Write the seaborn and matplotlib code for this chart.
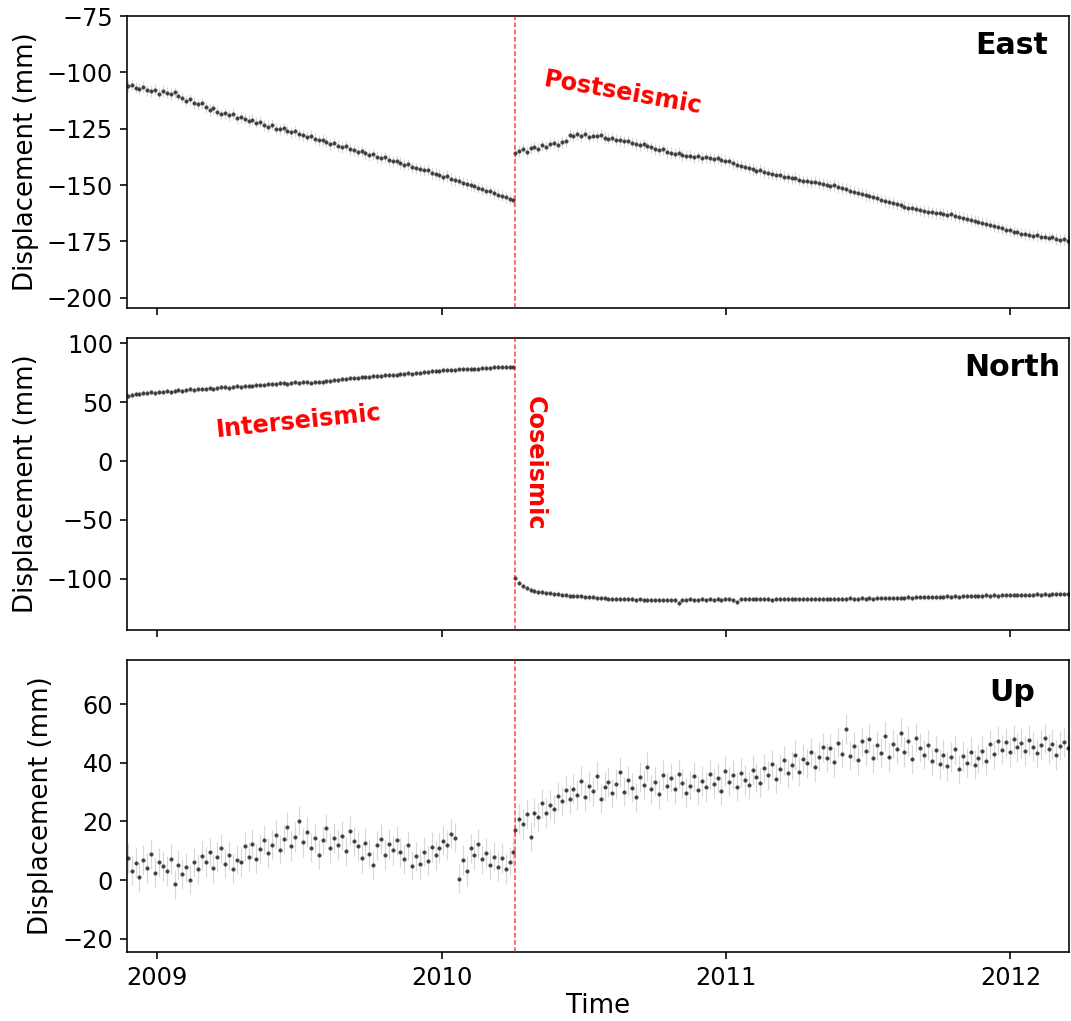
import numpy as np
import pandas as pd
import matplotlib
matplotlib.use("Agg")
import matplotlib.pyplot as plt
import matplotlib.dates as mdates
import seaborn as sns

# ---------------- data (5-day sampling) ----------------
pre_start = "2008-11-24"
post_start = "2010-04-05"
quake_date = "2010-04-05"

east_pre = [
    -106.0, -105.5, -106.8, -107.2, -106.4, -107.9, -108.3, -107.6, -109.5, -108.2,
    -109.0, -109.6, -108.8, -110.4, -111.2, -112.5, -111.9, -113.6, -114.2, -113.8,
    -115.5, -116.7, -115.9, -117.4, -118.6, -118.1, -119.0, -118.4, -120.3, -119.8,
    -120.5, -121.6, -121.0, -122.3, -121.9, -123.4, -124.1, -123.2, -124.9, -125.3,
    -124.8, -125.9, -126.6, -126.1, -127.5, -127.9, -128.6, -128.1, -129.4, -130.2,
    -130.0, -130.8, -131.9, -131.4, -132.6, -133.1, -132.7, -134.0, -134.5, -135.2,
    -135.0, -135.9, -136.8, -136.3, -137.5, -138.0, -137.6, -138.9, -139.5, -139.1,
    -140.2, -141.0, -140.7, -142.1, -142.6, -143.0, -143.5, -143.2, -144.6, -145.0,
    -145.5, -146.2, -146.0, -147.3, -147.8, -148.1, -148.9, -149.5, -150.0, -150.6,
    -151.2, -151.9, -152.5, -152.8, -153.6, -154.3, -154.7, -155.4, -156.0, -156.8,
]
east_post = [
    -135.8, -134.9, -134.2, -135.1, -133.6, -133.0, -133.8, -132.4, -132.9, -131.7,
    -131.5, -132.2, -130.9, -130.6, -127.8, -128.4, -127.5, -128.1, -127.2, -128.6,
    -128.0, -128.3, -127.7, -128.9, -129.4, -129.0, -129.8, -130.1, -130.6, -130.3,
    -131.2, -131.8, -132.3, -131.9, -132.8, -133.3, -134.0, -134.6, -134.2, -135.3,
    -135.8, -136.1, -135.7, -136.6, -136.9, -137.0, -137.6, -137.3, -138.0, -137.7,
    -138.0, -138.4, -138.1, -138.9, -139.2, -139.5, -140.3, -140.9, -141.4, -141.8,
    -142.5, -142.9, -143.6, -143.3, -144.2, -144.8, -145.1, -145.7, -145.4, -146.2,
    -146.6, -147.0, -146.8, -147.6, -148.0, -148.3, -148.7, -148.5, -149.2, -149.5,
    -149.8, -150.2, -150.0, -150.9, -151.3, -151.7, -152.4, -152.9, -153.3, -153.8,
    -154.4, -154.9, -155.1, -155.8, -156.4, -157.0, -157.6, -157.9, -158.6, -159.0,
    -159.5, -160.1, -160.3, -160.8, -161.2, -161.5, -161.9, -162.0, -162.4, -162.5,
    -162.8, -163.2, -163.0, -163.7, -164.1, -164.5, -164.9, -165.3, -165.8, -166.2,
    -166.8, -167.1, -167.6, -168.2, -168.6, -169.2, -169.7, -170.1, -170.6, -171.0,
    -171.5, -171.8, -172.0, -172.4, -172.2, -172.8, -173.1, -173.4, -173.2, -173.9,
    -174.2, -174.0, -174.6,
]
north_pre = [
    55.2, 56.1, 56.8, 57.0, 57.6, 58.0, 58.4, 58.1, 58.9, 59.0,
    59.3, 59.0, 59.8, 60.1, 59.7, 60.6, 60.9, 60.5, 61.2, 61.0,
    61.6, 61.9, 61.5, 62.2, 62.5, 62.7, 62.4, 63.1, 63.4, 63.2,
    63.8, 64.1, 63.7, 64.4, 64.8, 65.0, 65.4, 65.1, 65.8, 66.0,
    66.2, 65.8, 66.5, 66.9, 66.4, 66.8, 67.1, 66.7, 67.3, 67.0,
    67.5, 68.0, 68.3, 68.9, 69.2, 69.5, 69.9, 70.3, 70.6, 70.9,
    71.2, 71.0, 71.6, 72.0, 72.3, 72.5, 72.8, 73.2, 73.0, 73.5,
    73.8, 74.1, 74.5, 74.3, 74.9, 75.2, 75.6, 75.9, 76.2, 76.5,
    76.7, 77.1, 77.4, 77.2, 77.6, 77.8, 78.1, 77.9, 78.3, 78.0,
    78.3, 78.7, 79.0, 79.4, 79.8, 80.0, 80.3, 80.1, 79.7, 79.5,
]
north_post = [
    -99.0, -103.2, -106.1, -108.0, -109.4, -110.6, -110.9, -111.6, -112.0, -112.5,
    -113.0, -113.3, -113.6, -113.9, -114.3, -114.5, -114.9, -115.0, -115.4, -115.5,
    -115.8, -116.1, -116.4, -116.3, -116.8, -117.0, -116.9, -117.3, -117.1, -117.6,
    -117.5, -117.9, -117.6, -118.1, -117.8, -118.0, -117.7, -118.2, -117.9, -118.0,
    -117.8, -118.1, -120.5, -118.3, -117.9, -117.6, -118.0, -117.8, -117.5, -117.9,
    -117.6, -117.9, -117.4, -117.8, -117.5, -117.2, -117.7, -119.8, -117.6, -117.1,
    -117.3, -117.6, -117.2, -117.5, -117.0, -117.4, -117.7, -117.3, -117.1, -117.5,
    -117.3, -117.0, -117.4, -117.6, -117.2, -117.5, -116.9, -117.3, -117.1, -117.4,
    -117.2, -116.9, -117.3, -117.0, -116.8, -117.1, -116.7, -117.0, -116.9, -116.6,
    -116.8, -116.5, -116.9, -116.6, -116.3, -116.5, -116.2, -116.4, -116.0, -116.3,
    -116.0, -115.8, -116.1, -115.7, -115.9, -115.6, -115.4, -115.7, -115.3, -115.5,
    -115.3, -115.0, -115.2, -114.9, -115.1, -114.8, -114.6, -114.9, -114.5, -114.7,
    -114.5, -114.2, -114.4, -114.0, -114.3, -113.9, -114.1, -113.7, -113.9, -113.6,
    -113.5, -113.8, -113.4, -113.6, -113.2, -113.5, -113.1, -113.4, -113.0, -113.3,
    -112.9, -113.2, -113.0,
]
up_pre = [
    7.5, 3.2, 5.9, 1.0, 6.8, 4.1, 8.9, 2.5, 6.0, 4.7,
    3.1, 7.2, -1.5, 5.3, 2.0, 4.4, 0.2, 6.1, 3.8, 8.3,
    6.2, 9.5, 4.0, 7.9, 10.8, 5.6, 8.4, 3.9, 7.0, 6.2,
    11.5, 8.0, 12.4, 7.3, 10.6, 13.8, 9.2, 12.1, 15.5, 10.4,
    13.9, 18.2, 11.6, 14.7, 20.3, 12.9, 16.4, 11.0, 14.2, 8.7,
    13.5, 17.6, 10.9, 14.3, 12.0, 15.1, 9.8, 16.8, 13.2, 11.5,
    7.4, 12.8, 9.0, 5.1, 11.9, 14.0, 8.6, 12.3, 10.1, 13.6,
    9.5, 7.2, 11.8, 4.9, 8.1, 5.5, 9.7, 6.6, 11.3, 8.4,
    10.9, 13.4, 12.0, 15.8, 14.5, 0.5, 6.9, 3.1, 10.8, 8.6,
    12.4, 7.1, 9.3, 5.2, 8.0, 4.6, 7.5, 3.8, 6.3, 9.6,
]
up_post = [
    17.2, 20.8, 19.1, 22.5, 14.8, 23.0, 21.4, 26.2, 22.9, 25.7,
    24.1, 28.6, 26.9, 30.8, 27.5, 31.2, 29.0, 33.9, 28.4, 32.1,
    30.2, 35.6, 27.8, 31.9, 33.4, 29.6, 32.7, 36.8, 30.1, 34.0,
    31.5, 28.2, 35.1, 32.4, 38.7, 30.9, 33.6, 29.3, 35.8, 32.0,
    34.9, 31.1, 36.3, 33.0, 29.8, 32.2, 35.4, 30.6, 33.8, 31.7,
    36.1, 32.9, 34.8, 30.5, 37.2, 33.5, 35.9, 31.8, 36.6, 34.1,
    32.3, 37.5, 35.0, 33.2, 38.1, 35.7, 39.4, 34.6, 37.9, 40.8,
    36.4, 39.1, 42.6, 37.0, 41.3, 39.8, 43.5, 38.6, 42.1, 45.2,
    41.7, 44.9, 40.3, 46.8, 43.1, 51.5, 42.4, 45.6, 40.9, 47.3,
    44.0, 48.2, 41.6, 45.9, 43.3, 49.1, 42.0, 46.5, 44.8, 50.2,
    43.7, 47.4, 41.2, 48.6, 45.1, 42.8, 46.0, 40.5, 44.3, 39.6,
    42.7, 38.9, 41.9, 44.6, 37.8, 42.3, 40.0, 43.8, 39.3, 41.5,
    44.1, 40.7, 46.3, 42.9, 47.5, 44.4, 46.9, 43.6, 48.0, 45.3,
    46.7, 44.0, 47.8, 45.5, 43.2, 46.1, 48.3, 44.7, 46.4, 42.6,
    45.8, 47.0, 44.9,
]
sigma = {"East": 2.5, "North": 2.5, "Up": 5.0}

components = ["East", "North", "Up"]
pre_vals = {"East": east_pre, "North": north_pre, "Up": up_pre}
post_vals = {"East": east_post, "North": north_post, "Up": up_post}
ylims = {"East": (-204.5, -75), "North": (-143.5, 104.5), "Up": (-24.5, 75)}
yticks = {"East": np.arange(-200, -74, 25), "North": np.arange(-100, 101, 50),
          "Up": np.arange(-20, 61, 20)}

frames = []
for comp in components:
    d_pre = pd.date_range(pre_start, periods=len(pre_vals[comp]), freq="5D")
    d_post = pd.date_range(post_start, periods=len(post_vals[comp]), freq="5D")
    frames.append(pd.DataFrame({"date": list(d_pre) + list(d_post),
                                "disp": pre_vals[comp] + post_vals[comp],
                                "comp": comp}))
df = pd.concat(frames, ignore_index=True)

# ---------------- plot ----------------
plt.rcParams.update({
    "font.family": ["DejaVu Sans"],
    "xtick.labelsize": 12, "ytick.labelsize": 12,
    "axes.labelsize": 13,
    "axes.linewidth": 0.8,
})

DPI = 144
fig, axes = plt.subplots(3, 1, sharex=True, figsize=(1071 / DPI, 1021 / DPI), dpi=DPI)
fig.subplots_adjust(left=0.1186, right=0.998, top=0.9843, bottom=0.0676, hspace=0.103)

qd = pd.Timestamp(quake_date)
for ax, comp in zip(axes, components):
    sub = df[df["comp"] == comp]
    ax.errorbar(sub["date"], sub["disp"], yerr=sigma[comp], fmt="none",
                ecolor="#cfcfcf", elinewidth=0.6, alpha=0.8, zorder=1)
    sns.scatterplot(data=sub, x="date", y="disp", ax=ax, s=3.4, color="#2b2b2b",
                    edgecolor="#555555", linewidth=0.2, alpha=0.9, zorder=2,
                    legend=False)
    ax.axvline(qd, color="red", linestyle="--", linewidth=0.8, alpha=0.7,
               dashes=(3, 1.5), zorder=3)
    ax.set_ylim(*ylims[comp])
    ax.set_yticks(yticks[comp])
    ax.set_ylabel("Displacement (mm)")
    ax.set_xlabel("")
    ax.text(0.9395, 0.95 if comp != "Up" else 0.94, comp, transform=ax.transAxes,
            ha="center", va="top", fontsize=15, fontweight="bold")

axes[-1].set_xlim(pd.Timestamp("2008-11-23"), pd.Timestamp("2012-03-16"))
axes[-1].xaxis.set_major_locator(mdates.YearLocator())
axes[-1].xaxis.set_major_formatter(mdates.DateFormatter("%Y"))
axes[-1].set_xlabel("Time", fontsize=13, labelpad=1.5)

axes[0].text(pd.Timestamp("2010-08-21"), -109.3, "Postseismic", color="red",
             fontsize=12, fontweight="bold", rotation=-10, ha="center", va="center")
axes[1].text(pd.Timestamp("2009-07-01"), 33.5, "Interseismic", color="red",
             fontsize=12, fontweight="bold", rotation=6, ha="center", va="center")
axes[1].text(pd.Timestamp("2010-05-01"), -1.5, "Coseismic", color="red",
             fontsize=12, fontweight="bold", rotation=-90, ha="center", va="center")

fig.savefig("out.png", dpi=DPI)
